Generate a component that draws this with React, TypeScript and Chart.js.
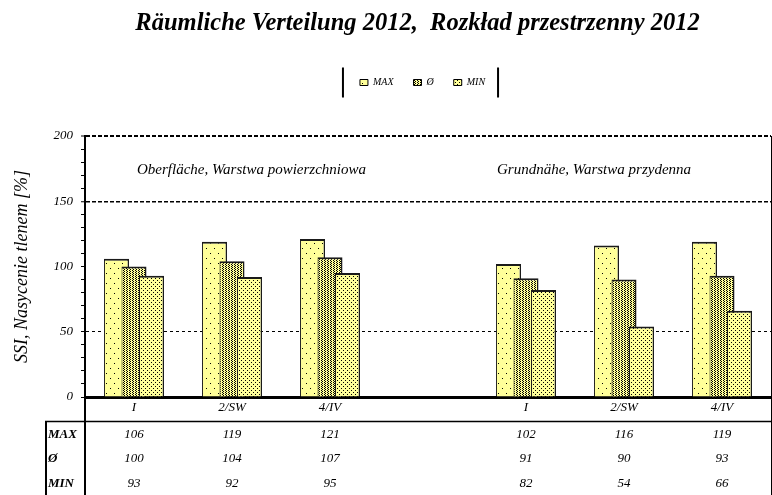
import React, { useEffect, useRef } from "react";
import { Chart, registerables } from "chart.js";

Chart.register(...registerables);

const categories = ["I", "2/SW", "4/IV", "", "I", "2/SW", "4/IV"];
const maxValues = [106, 119, 121, null, 102, 116, 119];
const avgValues = [100, 104, 107, null, 91, 90, 93];
const minValues = [93, 92, 95, null, 82, 54, 66];
const seriesNames = ["MAX", "Ø", "MIN"];
const yTicksMajor = [0, 50, 100, 150, 200];
const titleText = "Räumliche Verteilung 2012,  Rozkład przestrzenny 2012";
const yTitleText = "SSI, Nasycenie tlenem [%]";
const zoneLeftText = "Oberfläche, Warstwa powierzchniowa";
const zoneRightText = "Grundnähe, Warstwa przydenna";

const FONT = "'Liberation Serif', 'Times New Roman', serif";
const YELLOW = "#FFFF99";

function makePattern(w: number, h: number, dots: number[][]) {
  const c = document.createElement("canvas");
  c.width = w;
  c.height = h;
  const g = c.getContext("2d")!;
  g.fillStyle = YELLOW;
  g.fillRect(0, 0, w, h);
  g.fillStyle = "#000";
  for (const [x, y] of dots) g.fillRect(x, y, 1, 1);
  return g.createPattern(c, "repeat");
}

const tablePlugin = {
  id: "tablePlugin",
  afterLayout(chart: any) {
    if (chart.legend) {
      chart.legend.left += 11;
      chart.legend.right += 11;
    }
    if (chart.titleBlock) {
      chart.titleBlock.left += 6;
      chart.titleBlock.right += 6;
    }
  },
  beforeDatasetsDraw(chart: any) {
    const metas = chart.getSortedVisibleDatasetMetas();
    const ctx = chart.ctx;
    const a = chart.chartArea;
    ctx.save();
    ctx.beginPath();
    ctx.rect(a.left, a.top - 5, a.right - a.left, a.bottom - a.top + 10);
    ctx.clip();
    for (const m of metas) m.controller.draw();
    ctx.restore();
    return false;
  },
  afterDraw(chart: any) {
    const ctx = chart.ctx;
    const a = chart.chartArea;
    const xs = chart.scales.x;
    const H = chart.height;
    ctx.save();
    ctx.strokeStyle = "#000";
    // table lines
    ctx.lineWidth = 1.5;
    ctx.beginPath();
    ctx.moveTo(45, a.bottom + 24.5);
    ctx.lineTo(a.right, a.bottom + 24.5);
    ctx.stroke();
    ctx.lineWidth = 2;
    ctx.beginPath();
    ctx.moveTo(46, a.bottom + 24);
    ctx.lineTo(46, H);
    ctx.stroke();
    ctx.beginPath();
    ctx.moveTo(a.left, a.bottom);
    ctx.lineTo(a.left, H);
    ctx.stroke();
    ctx.lineWidth = 1;
    ctx.beginPath();
    ctx.moveTo(a.right + 0.5, a.top);
    ctx.lineTo(a.right + 0.5, H);
    ctx.stroke();

    // table text
    const rows = [maxValues, avgValues, minValues];
    const rowY = [a.bottom + 38, a.bottom + 62, a.bottom + 87];
    ctx.fillStyle = "#000";
    ctx.textBaseline = "middle";
    rows.forEach((vals, r) => {
      ctx.textAlign = "left";
      ctx.font = `italic bold 13px ${FONT}`;
      ctx.fillText(seriesNames[r], 48, rowY[r]);
      ctx.textAlign = "center";
      ctx.font = `italic 13px ${FONT}`;
      vals.forEach((v, i) => {
        if (v === null) return;
        ctx.fillText(String(v), xs.getPixelForValue(i), rowY[r]);
      });
    });

    // zone annotations
    ctx.font = `italic 15px ${FONT}`;
    ctx.textAlign = "left";
    ctx.fillText(zoneLeftText, xs.getPixelForValue(0) + 3, a.top + 34);
    ctx.fillText(zoneRightText, xs.getPixelForValue(4) - 29, a.top + 34);

    // legend frame bars
    const lg = chart.legend;
    if (lg && lg.legendHitBoxes && lg.legendHitBoxes.length) {
      const hb = lg.legendHitBoxes;
      const first = hb[0];
      const last = hb[hb.length - 1];
      const cy = first.top + first.height / 2;
      ctx.lineWidth = 2;
      ctx.beginPath();
      ctx.moveTo(first.left - 17, cy - 15);
      ctx.lineTo(first.left - 17, cy + 15);
      ctx.moveTo(last.left + last.width + 13, cy - 15);
      ctx.lineTo(last.left + last.width + 13, cy + 15);
      ctx.stroke();
    }
    ctx.restore();
  },
};

export default function App() {
  const ref = useRef<HTMLCanvasElement | null>(null);
  useEffect(() => {
    const canvas = ref.current!;
    const patMax = makePattern(8, 10, [[2, 3], [6, 8]]);
    const patAvg = makePattern(3, 2, [[0, 0], [1, 1]]);
    const patMin = makePattern(4, 4, [[1, 0], [3, 2]]);
    const common = {
      borderColor: "#1a1a1a",
      borderWidth: { top: 2, left: 1, right: 1.5, bottom: 0 },
      borderSkipped: false as any,
      categoryPercentage: 0.536,
      barPercentage: 1.43,
    };
    const chart = new Chart(canvas, {
      type: "bar",
      data: {
        labels: categories,
        datasets: [
          { label: seriesNames[0], data: maxValues, backgroundColor: patMax as any, ...common },
          { label: seriesNames[1], data: avgValues, backgroundColor: patAvg as any, ...common },
          { label: seriesNames[2], data: minValues, backgroundColor: patMin as any, ...common },
        ],
      },
      options: {
        responsive: false,
        animation: false,
        layout: { padding: { left: 52, right: 1, top: 0, bottom: 0 } },
        plugins: {
          tooltip: { enabled: false },
          title: {
            display: true,
            text: titleText,
            color: "#000",
            font: { family: FONT, size: 24.5, style: "italic", weight: "bold" },
            padding: { top: 9, bottom: 19.1 },
          },
          legend: {
            display: true,
            position: "top",
            labels: {
              boxWidth: 8,
              boxHeight: 6,
              padding: 20,
              color: "#000",
              font: { family: FONT, size: 10, style: "italic" },
              generateLabels: (ch: any) =>
                ch.data.datasets.map((ds: any, i: number) => ({
                  text: ds.label,
                  fillStyle: ds.backgroundColor,
                  strokeStyle: "#000",
                  lineWidth: 1,
                  hidden: false,
                  datasetIndex: i,
                  fontColor: "#000",
                })),
            },
          },
        },
        scales: {
          x: {
            type: "category",
            position: "bottom",
            grid: { display: false, drawTicks: false },
            border: { display: true, color: "#000", width: 3 },
            ticks: {
              color: "#000",
              padding: 3,
              font: { family: FONT, size: 13, style: "italic" },
            },
            afterFit: (s: any) => {
              s.height = 98;
            },
          },
          xTop: {
            type: "category",
            position: "top",
            display: true,
            grid: { display: false, drawTicks: false },
            border: { display: false },
            ticks: { display: false },
            afterFit: (s: any) => {
              s.height = 38.5;
            },
          },
          y: {
            min: 0,
            max: 200,
            position: "left",
            ticks: {
              stepSize: 10,
              autoSkip: false,
              padding: 8,
              color: "#000",
              font: { family: FONT, size: 13, style: "italic" },
              callback: (v: any) => (yTicksMajor.includes(Number(v)) ? String(v) : ""),
            },
            grid: {
              drawTicks: true,
              tickLength: 4,
              tickColor: "#000",
              tickWidth: 1,
              color: (c: any) => {
                const v = c.tick ? c.tick.value : -1;
                return v === 50 || v === 150 || v === 200 ? "#000" : "rgba(0,0,0,0)";
              },
              lineWidth: (c: any) => {
                const v = c.tick ? c.tick.value : -1;
                return v === 200 ? 2 : v === 150 ? 1.5 : 1;
              },
            },
            border: {
              display: true,
              color: "#000",
              width: 2,
              dash: (c: any) => {
                const v = c.tick ? c.tick.value : -1;
                return v === 50 ? [3, 3] : [4, 2];
              },
            },
            title: {
              display: true,
              text: yTitleText,
              color: "#000",
              font: { family: FONT, size: 18, style: "italic" },
              padding: { top: -40.8, bottom: 0 },
            },
            afterFit: (s: any) => {
              s.width = 33;
            },
          },
        },
      },
      plugins: [tablePlugin],
    } as any);
    return () => chart.destroy();
  }, []);
  return (
    <div style={{ position: "fixed", left: 0, top: 0, width: 772, height: 495, background: "#fff" }}>
      <canvas ref={ref} width={772} height={495} style={{ display: "block" }} />
    </div>
  );
}
